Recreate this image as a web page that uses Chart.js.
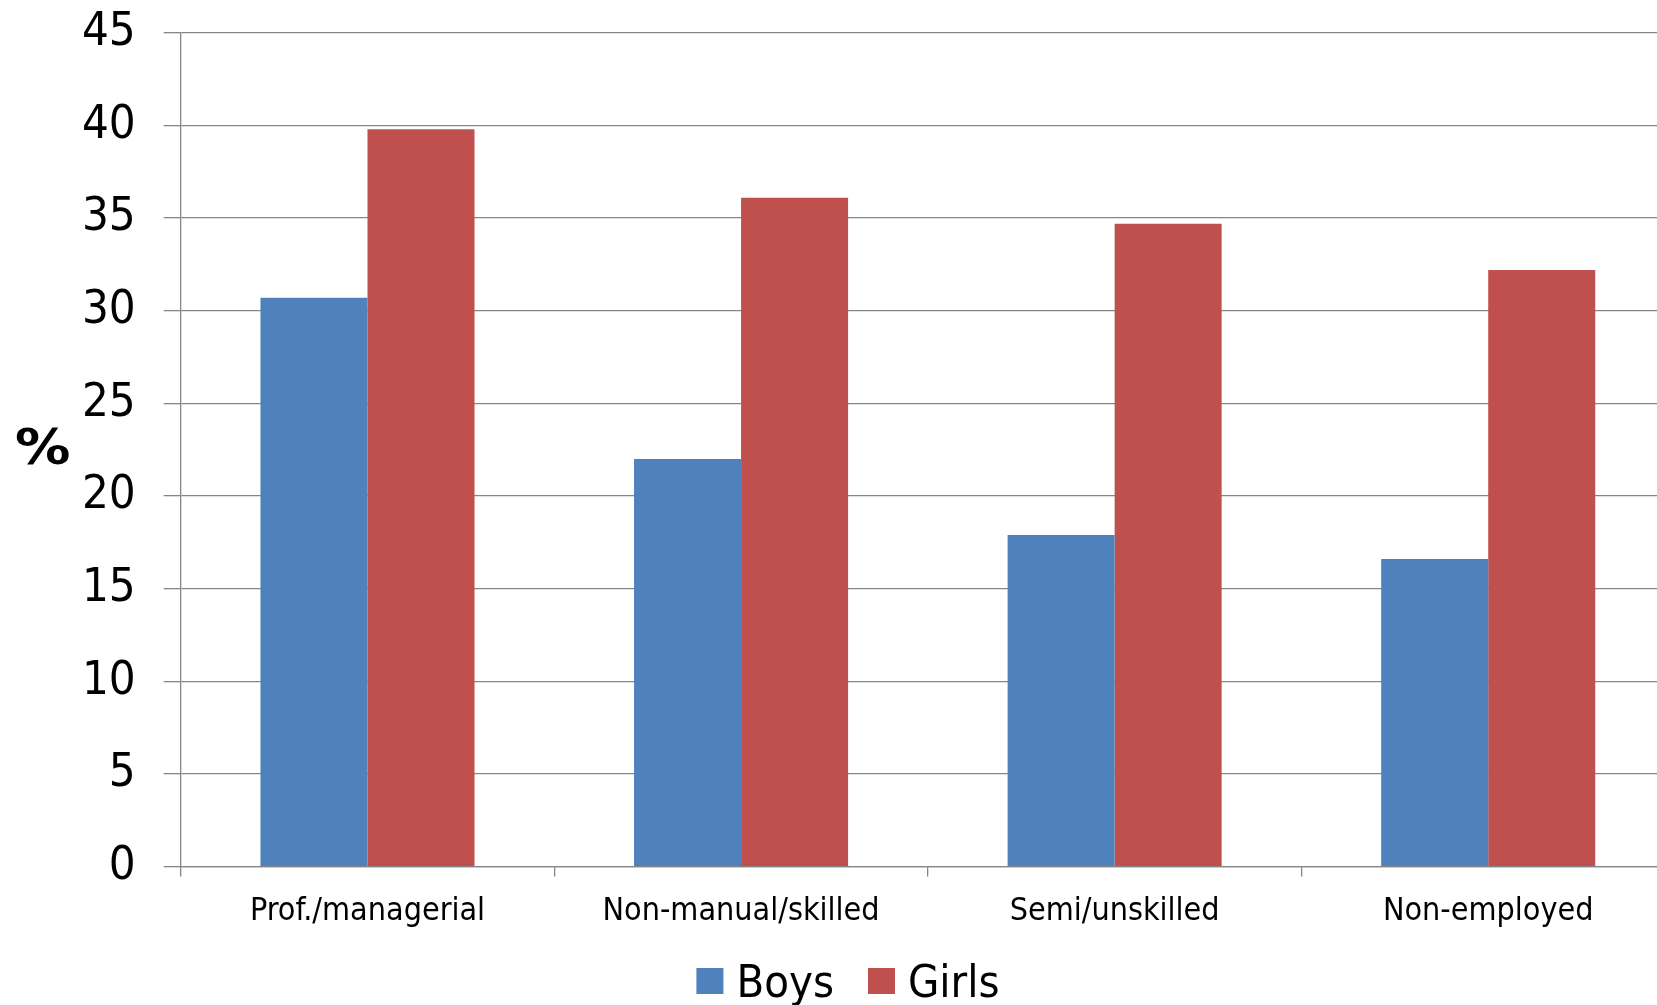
<!DOCTYPE html>
<html>
<head>
<meta charset="utf-8">
<script src="https://cdn.jsdelivr.net/npm/chart.js@4.4.1/dist/chart.umd.min.js"></script>
<style>
  html, body { margin: 0; padding: 0; background: #fff; overflow: hidden; width: 1657px; height: 1005px; }
  canvas { display: block; }
</style>
</head>
<body>
<canvas id="chart" width="1675" height="1005"></canvas>
<script>
// Share of pupils (%) by parental occupation group
const categories = ['Prof./managerial', 'Non-manual/skilled', 'Semi/unskilled', 'Non-employed'];
const boys  = [30.7, 22.0, 17.9, 16.6];
const girls = [39.8, 36.1, 34.7, 32.2];
const seriesNames = ['Boys', 'Girls'];
const axisTitle = '%';

const FONT = "'DejaVu Sans Condensed', 'DejaVu Sans', sans-serif";
const GRID = '#868686';
const BLUE = '#4F81BD';
const RED = '#C0504D';

// Horizontal "%" title beside the value axis (slightly widened glyph)
const sideTitle = {
  id: 'sideTitle',
  afterDraw(chart) {
    const { ctx, chartArea } = chart;
    ctx.save();
    ctx.font = "bold 49px 'DejaVu Sans', sans-serif";
    ctx.fillStyle = '#000';
    ctx.textAlign = 'center';
    ctx.textBaseline = 'middle';
    const m = ctx.measureText(axisTitle);
    const ink = (m.actualBoundingBoxLeft + m.actualBoundingBoxRight) || 46;
    const sx = 53 / ink;
    ctx.translate(42.7, (chartArea.top + chartArea.bottom) / 2 + 1.5);
    ctx.scale(sx, 1);
    ctx.fillText(axisTitle, 0, 0);
    ctx.restore();
  }
};

// Legend row under the category labels
const legendRow = {
  id: 'legendRow',
  afterDraw(chart) {
    const ctx = chart.ctx;
    const items = chart.data.datasets.map(d => ({ text: d.label, color: d.backgroundColor }));
    ctx.save();
    ctx.font = '45px ' + FONT;
    const box = 27, gapText = 13, gapItem = 34;
    const widths = items.map(it => box + gapText + ctx.measureText(it.text).width);
    const total = widths.reduce((a, b) => a + b, 0) + gapItem * (items.length - 1);
    let x = 848 - total / 2;
    const boxTop = 968, baseline = 997;
    items.forEach((it, i) => {
      ctx.fillStyle = it.color;
      ctx.fillRect(x, boxTop, box, box - 1);
      ctx.fillStyle = '#000';
      ctx.textAlign = 'left';
      ctx.textBaseline = 'alphabetic';
      ctx.fillText(it.text, x + box + gapText, baseline);
      x += widths[i] + gapItem;
    });
    ctx.restore();
  }
};

new Chart(document.getElementById('chart'), {
  type: 'bar',
  data: {
    labels: categories,
    datasets: [
      { label: seriesNames[0], data: boys, backgroundColor: BLUE, categoryPercentage: 0.573, barPercentage: 1.0 },
      { label: seriesNames[1], data: girls, backgroundColor: RED, categoryPercentage: 0.573, barPercentage: 1.0 }
    ]
  },
  options: {
    responsive: false,
    animation: false,
    devicePixelRatio: 1,
    layout: { padding: { top: 32.8, right: 0, bottom: 0, left: 0 } },
    plugins: { legend: { display: false }, tooltip: { enabled: false } },
    scales: {
      x: {
        offset: true,
        grid: { display: true, offset: true, drawOnChartArea: false, drawTicks: true, tickLength: 10, color: GRID, lineWidth: 1.3 },
        border: { display: true, color: GRID, width: 1.3 },
        ticks: { color: '#000', font: { family: FONT, size: 32 }, padding: 16, maxRotation: 0, autoSkip: false },
        afterFit(s) { s.height = 138.4; s.paddingLeft = 0; s.paddingRight = 0; }
      },
      y: {
        min: 0,
        max: 45,
        ticks: { stepSize: 5, color: '#000', font: { family: FONT, size: 47 }, padding: 28 },
        grid: { color: GRID, lineWidth: 1.3, tickLength: 17, drawTicks: true },
        border: { display: true, color: GRID, width: 1.3 },
        afterFit(s) { s.width = 180.7; s.paddingTop = 0; s.paddingBottom = 0; }
      }
    }
  },
  plugins: [sideTitle, legendRow]
});
</script>
</body>
</html>
